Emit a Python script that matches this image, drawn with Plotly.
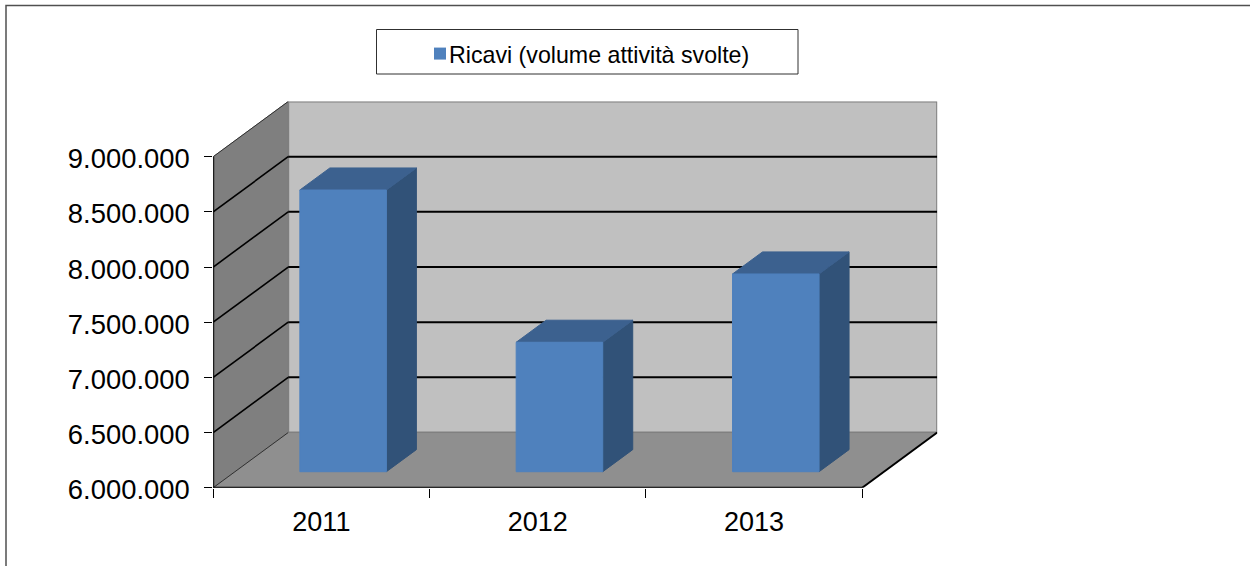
import plotly.graph_objects as go

# Data
years = ["2011", "2012", "2013"]
ricavi = [8553000, 7173000, 7792000]
y_ticks = [6000000, 6500000, 7000000, 7500000, 8000000, 8500000, 9000000]
series_name = "Ricavi (volume attività svolte)"

W, H = 1250, 566
X0, X1, YB, YT = 213.2, 862.2, 487.7, 156.7
YMIN, YMAX = y_ticks[0], y_ticks[-1]
DX = 75 / ((X1 - X0) / 3)   # x shift of full depth, in category units
DY = 500000                 # y shift of full depth, in value units
BAR_HALF = 0.2
D_FRONT, D_BACK = 0.29, 0.69
# The plot area holds the whole box, front plane plus the depth shift
X_END = 3 + DX
Y_END = YMAX + DY
PX_X_END = X1 + 75
PX_Y_END = YT - (YB - YT) / 6


def pr(x, v, d):
    return x + d * DX, v + d * DY


def poly(points, color, line=None, lw=1):
    return go.Scatter(
        x=[p[0] for p in points] + [points[0][0]],
        y=[p[1] for p in points] + [points[0][1]],
        mode="lines", fill="toself", fillcolor=color,
        line=dict(color=line or color, width=lw),
        cliponaxis=False, showlegend=False, hoverinfo="skip",
    )


def seg(points, color, width):
    xs, ys = [], []
    for a, b in points:
        xs += [a[0], b[0], None]
        ys += [a[1], b[1], None]
    return go.Scatter(x=xs, y=ys, mode="lines", line=dict(color=color, width=width),
                      cliponaxis=False, showlegend=False, hoverinfo="skip")


fig = go.Figure()
# Walls and floor
fig.add_trace(poly([pr(0, YMIN, 1), pr(3, YMIN, 1), pr(3, YMAX, 1), pr(0, YMAX, 1)], "#c0c0c0", "#808080", 2))
fig.add_trace(poly([pr(0, YMIN, 0), pr(0, YMIN, 1), pr(0, YMAX, 1), pr(0, YMAX, 0)], "#7f7f7f", "#7f7f7f", 1))
fig.add_trace(poly([pr(0, YMIN, 0), pr(3, YMIN, 0), pr(3, YMIN, 1), pr(0, YMIN, 1)], "#8f8f8f", "#808080", 1))
# Gridlines: back wall and side wall
inner = [t for t in y_ticks if t not in (YMIN, YMAX)]
fig.add_trace(seg([(pr(0, t, 1), pr(3, t, 1)) for t in inner], "#000000", 2))
fig.add_trace(seg([(pr(0, t, 0), pr(0, t, 1)) for t in inner], "#000000", 1.6))
fig.add_trace(seg([(pr(0, YMIN, 0), pr(0, YMIN, 1)), (pr(0, YMAX, 0), pr(0, YMAX, 1))], "#303030", 1))
fig.add_trace(seg([(pr(3, YMIN, 0), pr(3, YMIN, 1))], "#000000", 2))
# Front edges of the box (axis lines)
fig.add_trace(seg([(pr(0, YMIN, 0), pr(0, YMAX, 0)), (pr(0, YMIN, 0), pr(3, YMIN, 0))], "#000000", 2))

# Bars
for i, v in enumerate(ricavi):
    c = i + 0.5
    l, r = c - BAR_HALF, c + BAR_HALF
    fig.add_trace(poly([pr(r, YMIN, D_FRONT), pr(r, YMIN, D_BACK), pr(r, v, D_BACK), pr(r, v, D_FRONT)], "#315278"))
    fig.add_trace(poly([pr(l, v, D_FRONT), pr(r, v, D_FRONT), pr(r, v, D_BACK), pr(l, v, D_BACK)], "#3c618f"))
    fig.add_trace(poly([pr(l, YMIN, D_FRONT), pr(r, YMIN, D_FRONT), pr(r, v, D_FRONT), pr(l, v, D_FRONT)], "#4f81bd"))

# Legend entry
fig.add_trace(go.Scatter(x=[None], y=[None], mode="markers", name=series_name,
                         marker=dict(symbol="square", size=12, color="#4f81bd")))

fig.update_layout(
    width=W, height=H, margin=dict(l=0, r=0, t=0, b=0, autoexpand=False),
    paper_bgcolor="white", plot_bgcolor="rgba(0,0,0,0)",
    separators=",.", hovermode=False,
    font=dict(family="Liberation Sans, Arial, sans-serif", color="#000000"),
    showlegend=True,
    legend=dict(x=409 / W, y=1 - 32 / H, xanchor="left", yanchor="top",
                bgcolor="rgba(0,0,0,0)", borderwidth=0,
                font=dict(size=23.2, family="Liberation Sans, Arial, sans-serif")),
    xaxis=dict(domain=[X0 / W, PX_X_END / W], range=[0, X_END], showgrid=False, zeroline=False,
               tickmode="array", tickvals=[0.5, 1.5, 2.5], ticktext=years,
               ticks="", showline=False,
               tickfont=dict(size=27), ticklabelstandoff=15,
               minor=dict(tickmode="array", tickvals=[0, 1, 2, 3], ticks="outside",
                          ticklen=9, tickcolor="#000000", tickwidth=1)),
    yaxis=dict(domain=[1 - YB / H, 1 - PX_Y_END / H], range=[YMIN, Y_END], showgrid=False, zeroline=False,
               tickmode="array", tickvals=y_ticks, tickformat=",d",
               ticks="outside", ticklen=8, tickcolor="#000000", tickwidth=1,
               showline=False,
               tickfont=dict(size=27.4), ticklabelstandoff=9, ticklabelshift=2),
    shapes=[
        dict(type="rect", xref="paper", yref="paper", x0=6 / W, x1=1.01, y0=-0.02, y1=1 - 5.5 / H,
             line=dict(color="#505050", width=1.5), layer="below"),
        dict(type="rect", xref="paper", yref="paper", x0=376.5 / W, x1=798 / W, y0=1 - 74 / H, y1=1 - 29.5 / H,
             line=dict(color="#303030", width=1), layer="below"),
    ],
)

fig.write_html(
    "out.html",
    config={"displayModeBar": False},
    post_script=(
        "document.body.style.margin='0';"
        "document.querySelectorAll('.legendpoints').forEach(function(g){"
        "g.setAttribute('transform','translate(11,0)');});"
    ),
)
